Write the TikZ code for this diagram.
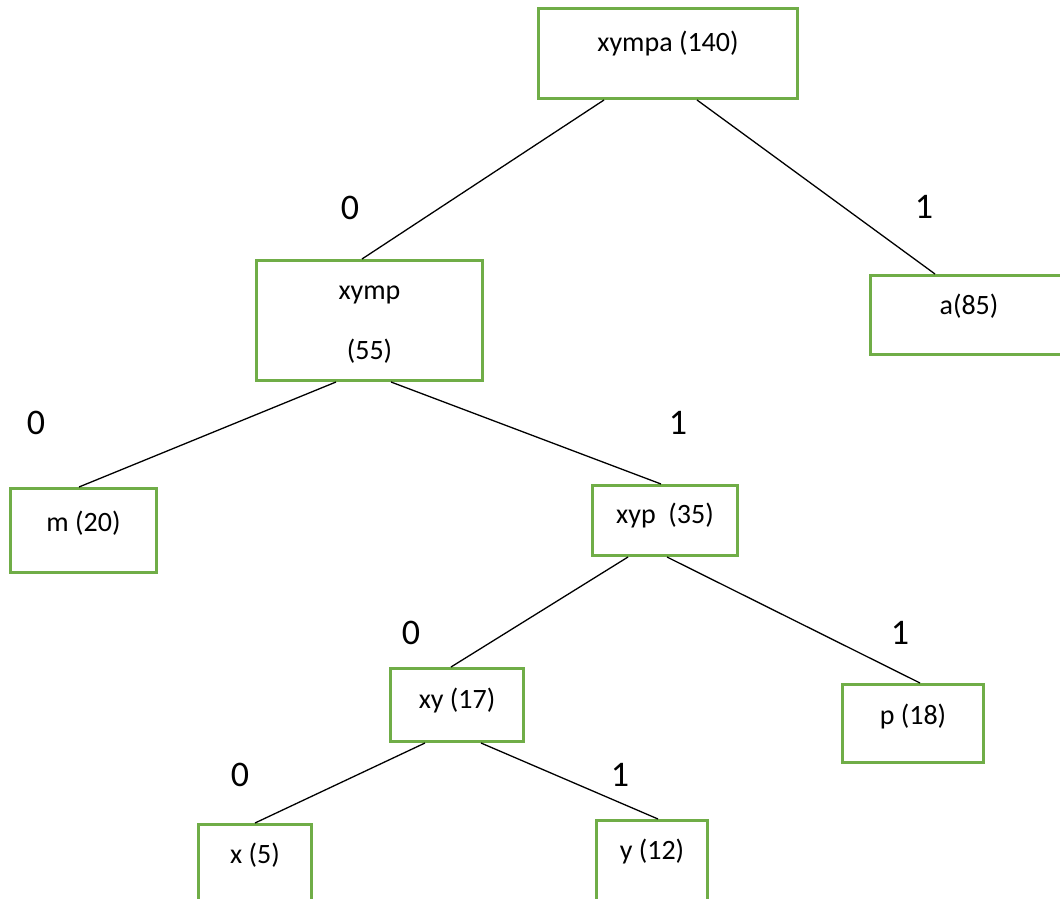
\documentclass[tikz,border=0pt]{standalone}
\usepackage{fontspec}
\setmainfont{Carlito}
\definecolor{boxgreen}{HTML}{70AD47}
\tikzset{
  box/.style={draw=boxgreen, line width=3pt, inner sep=0pt, anchor=north west,
    font=\fontsize{28}{34}\selectfont},
  edgeline/.style={draw=black, line width=1.3pt},
  bit/.style={inner sep=0pt, anchor=base, font=\fontsize{36}{40}\selectfont}
}
\begin{document}
\begin{tikzpicture}[x=1pt,y=-1pt]
\useasboundingbox (0,0) rectangle (1060,899);
% boxes
\node[box, minimum width=259pt, text height=43pt, text depth=47pt] (root) at (537,7) {xympa (140)};
\node[box, minimum width=226pt, text height=39pt, text depth=81pt] (xymp) at (255,259)
  {\parbox[t]{200pt}{\centering\fontsize{28}{60}\selectfont xymp\\(55)}};
\node[box, minimum width=197pt, text height=39pt, text depth=40pt] (a) at (869,274) {a(85)};
\node[box, minimum width=146pt, text height=43pt, text depth=41pt] (m) at (9,487) {m (20)};
\node[box, minimum width=145pt, text height=38pt, text depth=32pt] (xyp) at (591,484) {xyp~~(35)};
\node[box, minimum width=133pt, text height=40pt, text depth=33pt] (xy) at (389,667) {xy (17)};
\node[box, minimum width=141pt, text height=40pt, text depth=38pt] (p) at (841,683) {p (18)};
\node[box, minimum width=113pt, text height=39pt, text depth=43pt] (x) at (197,823) {x (5)};
\node[box, minimum width=111pt, text height=39pt, text depth=47pt] (y) at (595,819) {y (12)};
% edges
\draw[edgeline] ([xshift=67pt]root.south west) -- ([xshift=107pt]xymp.north west);
\draw[edgeline] ([xshift=160pt]root.south west) -- ([xshift=66pt]a.north west);
\draw[edgeline] ([xshift=81pt]xymp.south west) -- ([xshift=70pt]m.north west);
\draw[edgeline] ([xshift=136pt]xymp.south west) -- ([xshift=70pt]xyp.north west);
\draw[edgeline] ([xshift=37pt]xyp.south west) -- ([xshift=62pt]xy.north west);
\draw[edgeline] ([xshift=76pt]xyp.south west) -- ([xshift=79pt]p.north west);
\draw[edgeline] ([xshift=36pt]xy.south west) -- ([xshift=58pt]x.north west);
\draw[edgeline] ([xshift=92pt]xy.south west) -- ([xshift=63pt]y.north west);
% bit labels
\node[bit] (b1) at (350,219) {0};
\node[bit] (b2) at (924,218) {1};
\node[bit] (b3) at (36,434) {0};
\node[bit] (b4) at (678,434) {1};
\node[bit] (b5) at (411,644) {0};
\node[bit] (b6) at (900,644) {1};
\node[bit] (b7) at (240,786) {0};
\node[bit] (b8) at (620,786) {1};
\end{tikzpicture}
\end{document}
